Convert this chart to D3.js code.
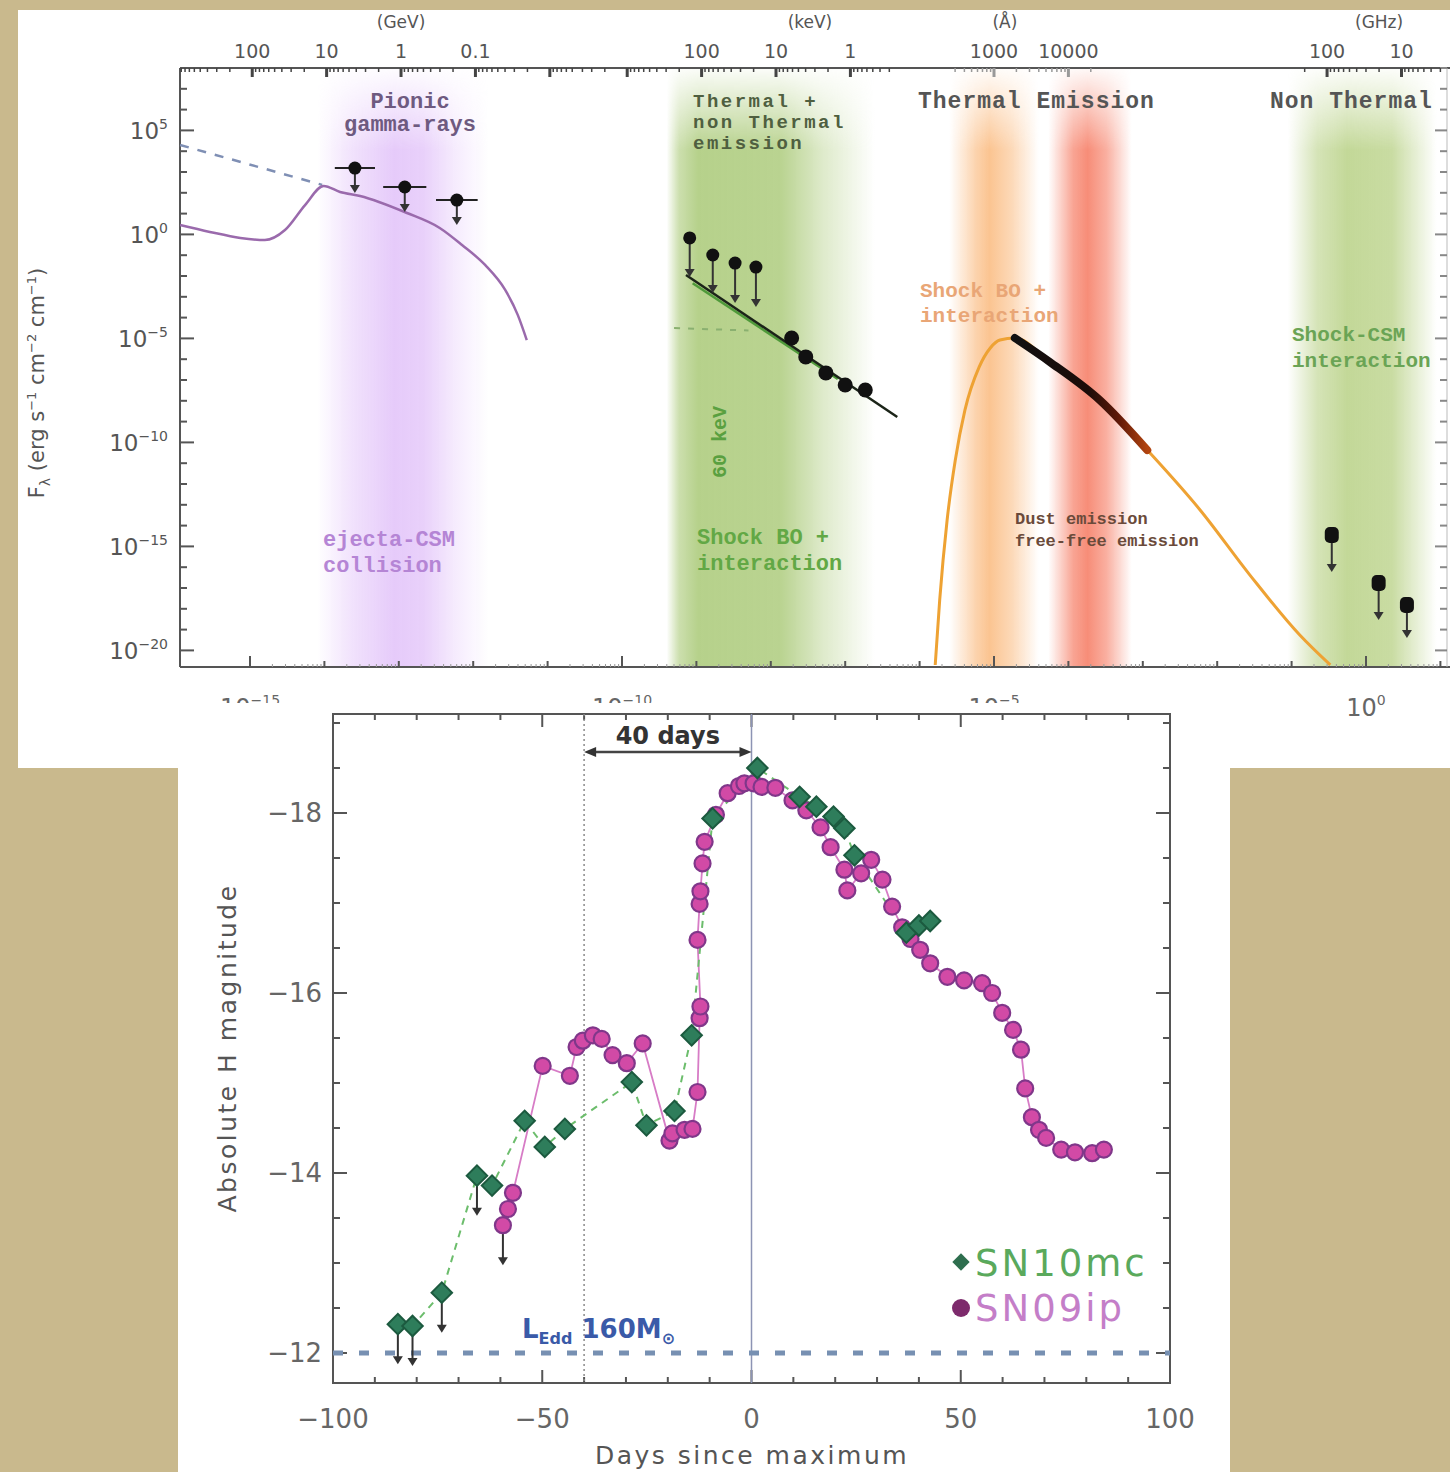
<!DOCTYPE html>
<html>
<head>
<meta charset="utf-8">
<script src="https://cdn.jsdelivr.net/npm/d3@7"></script>
<style>
  html, body { margin: 0; padding: 0; background: #c9b98d; }
  svg { display: block; }
</style>
</head>
<body>
<svg id="fig" width="1450" height="1472"></svg>
<script>
// ================= Upper panel: broadband SED =================
// x: log10 wavelength [cm], y: log10 F_lambda [erg s^-1 cm^-2 cm^-1]
const pionicModel = [[-15.94,0.45],[-15.54,0.12],[-15.13,-0.17],[-14.80,-0.27],[-14.53,0.21],
  [-14.26,1.41],[-14.01,2.33],[-13.79,2.04],[-13.52,1.85],[-12.89,1.03],[-12.45,0.31],
  [-12.15,-0.51],[-11.84,-1.47],[-11.57,-2.67],[-11.40,-3.88],[-11.28,-5.08]];
const pionicExtension = [[-15.94,4.30],[-14.03,2.38]];
// gamma-ray upper limits: [log lambda, log F, half band width in dex]
const gammaLimits = [[-13.59,3.19,0.27],[-12.92,2.28,0.29],[-12.22,1.65,0.28]];
const gammaLimitDrop = 1.2;
// hard X-ray upper limits: [log lambda, log F, arrow tip]
const xrayLimits = [[-9.09,-0.17,-2.05],[-8.78,-0.99,-2.82],[-8.48,-1.38,-3.30],[-8.20,-1.57,-3.49]];
const xrayDetections = [[-7.72,-4.98],[-7.53,-5.89],[-7.26,-6.66],[-7.00,-7.24],[-6.73,-7.48]];
const xrayPowerLaw = [[-9.14,-1.95],[-6.30,-8.78]];
const xrayShockModel = [[-9.05,-2.35],[-7.10,-6.95]];
const xrayFaintModel = [[-9.30,-4.50],[-8.30,-4.62]];
const thermalModel = [[-5.79,-20.7],[-5.73,-17.58],[-5.63,-13.73],[-5.52,-10.85],[-5.39,-8.44],
  [-5.20,-6.38],[-5.05,-5.46],[-4.92,-5.08],[-4.72,-4.98],[-4.25,-6.13],[-3.58,-7.96],
  [-2.94,-10.37],[-2.23,-13.25],[-1.56,-16.38],[-0.89,-19.26],[-0.48,-20.70]];
const opticalData = [[-4.72,-4.98],[-4.25,-6.13],[-3.58,-7.96],[-2.94,-10.37]];
// radio upper limits: [log lambda, log F, arrow tip]
const radioLimits = [[-0.46,-14.45,-16.23],[0.17,-16.76,-18.54],[0.55,-17.82,-19.40]];
// emission regimes (log lambda)
const regimes = [
  { id: "pionic", from: -14.10, to: -11.80 },
  { id: "xray",   from: -9.40,  to: -6.60 },
  { id: "uv",     from: -5.60,  to: -4.40 },
  { id: "ir",     from: -4.27,  to: -3.15 },
  { id: "radio",  from: -1.05,  to: 0.95 }
];
const yDecadeLabels = [5, 0, -5, -10, -15, -20];
const xDecadeLabels = [-15, -10, -5, 0];
// secondary (top) axes
const gevLabels = [100, 10, 1, 0.1];
const kevLabels = [100, 10, 1];
const angLabels = [1000, 10000];
const ghzLabels = [100, 10];

// ================= Lower panel: H-band light curves =================
// [days since maximum, absolute H magnitude, upper limit flag]
const sn10mc = [[-84.5,-12.32,1],[-81,-12.30,1],[-74,-12.67,1],[-65.6,-13.97,1],[-62,-13.86,0],
  [-54.2,-14.58,0],[-49.4,-14.29,0],[-44.6,-14.49,0],[-28.6,-15.01,0],[-25.1,-14.53,0],
  [-18.4,-14.69,0],[-14.3,-15.53,0],[-9.3,-17.94,0],[1.4,-18.50,0],[11.5,-18.18,0],
  [15.5,-18.07,0],[19.6,-17.96,0],[22.2,-17.83,0],[24.6,-17.53,0],[37,-16.67,0],
  [40,-16.75,0],[42.7,-16.80,0]];
const sn09ip = [[-59.4,-13.42,1],[-58.2,-13.60,0],[-57,-13.78,0],[-49.9,-15.19,0],[-43.4,-15.08,0],
  [-41.8,-15.40,0],[-40.3,-15.47,0],[-37.9,-15.53,0],[-35.8,-15.49,0],[-33.2,-15.31,0],
  [-29.8,-15.22,0],[-26,-15.44,0],[-19.6,-14.36,0],[-18.9,-14.44,0],[-16,-14.48,0],
  [-14.1,-14.49,0],[-12.9,-14.90,0],[-12.4,-15.72,0],[-12.2,-15.85,0],[-12.9,-16.59,0],
  [-12.4,-16.99,0],[-12.2,-17.13,0],[-11.7,-17.44,0],[-11.2,-17.68,0],[-8.5,-17.98,0],
  [-5.7,-18.22,0],[-3,-18.30,0],[-1.7,-18.33,0],[0.5,-18.33,0],[2.4,-18.29,0],[5.7,-18.28,0],
  [9.8,-18.14,0],[13.1,-18.03,0],[16.5,-17.84,0],[18.9,-17.62,0],[22.2,-17.37,0],[22.9,-17.14,0],
  [26.2,-17.33,0],[28.6,-17.48,0],[31.3,-17.26,0],[33.6,-16.96,0],[36,-16.73,0],[38,-16.60,0],
  [40.3,-16.48,0],[42.7,-16.33,0],[46.8,-16.18,0],[50.8,-16.14,0],[55.1,-16.11,0],[57.5,-16.00,0],
  [59.9,-15.78,0],[62.5,-15.59,0],[64.4,-15.37,0],[65.4,-14.94,0],[67,-14.62,0],[68.7,-14.48,0],
  [70.4,-14.39,0],[74,-14.26,0],[77.3,-14.23,0],[81.4,-14.22,0],[84.2,-14.26,0]];
const eddingtonMag = -12;
const gapStart = -40, gapEnd = 0;
const dayTicksMajor = [-100, -50, 0, 50, 100];
const magTicksMajor = [-18, -16, -14, -12];

// ---------------------------------------------------------------
const svg = d3.select("#fig");
const defs = svg.append("defs");
const FONT = "'DejaVu Sans', sans-serif";
const MONO = "'Liberation Mono', 'DejaVu Sans Mono', monospace";

svg.append("rect").attr("width", 1450).attr("height", 1472).attr("fill", "#c9b98d");
svg.append("rect").attr("x", 18).attr("y", 10).attr("width", 1432).attr("height", 758).attr("fill", "#ffffff");

// ---------- upper panel scales ----------
const xT = d3.scaleLinear().domain([-15, 0]).range([250, 1366]);
const yT = d3.scaleLinear().domain([5, -20]).range([130.4, 650.4]);
const T = { left: 180, right: 1447, top: 68, bottom: 667 };
const lamLo = xT.invert(T.left), lamHi = xT.invert(1450);
const fHi = yT.invert(T.top), fLo = yT.invert(T.bottom);

// regime bands
const regimeStyle = {
  pionic: { color: "#e6cbfa", stops: [[0,0],[0.2,0.55],[0.45,1],[0.62,0.9],[0.8,0.4],[1,0]] },
  xray:   { color: "#b6d18b", stops: [[0,0],[0.06,0.7],[0.15,1],[0.55,0.95],[0.75,0.45],[1,0]] },
  uv:     { color: "#fbc491", stops: [[0,0],[0.3,0.75],[0.45,1],[0.7,0.65],[1,0]] },
  ir:     { color: "#f78d78", stops: [[0,0],[0.3,0.8],[0.47,1],[0.7,0.7],[1,0]] },
  radio:  { color: "#c3d898", stops: [[0,0],[0.2,0.7],[0.4,1],[0.7,0.9],[1,0]] }
};
const fade = defs.append("linearGradient").attr("id", "bandFade")
  .attr("gradientUnits", "userSpaceOnUse").attr("x1", 0).attr("x2", 0).attr("y1", T.top).attr("y2", 150);
fade.append("stop").attr("offset", 0).attr("stop-color", "#fff").attr("stop-opacity", 0.05);
fade.append("stop").attr("offset", 1).attr("stop-color", "#fff").attr("stop-opacity", 1);
defs.append("mask").attr("id", "bandMask")
  .append("rect").attr("x", 0).attr("y", 0).attr("width", 1450).attr("height", 800).attr("fill", "url(#bandFade)");

const bandG = svg.append("g").attr("mask", "url(#bandMask)");
regimes.forEach(r => {
  const st = regimeStyle[r.id];
  const g = defs.append("linearGradient").attr("id", "band-" + r.id)
    .attr("gradientUnits", "userSpaceOnUse")
    .attr("x1", xT(r.from)).attr("x2", xT(r.to)).attr("y1", 0).attr("y2", 0);
  st.stops.forEach(([o, a]) => g.append("stop").attr("offset", o)
    .attr("stop-color", st.color).attr("stop-opacity", a));
  bandG.append("rect").attr("x", xT(r.from)).attr("width", xT(r.to) - xT(r.from))
    .attr("y", T.top).attr("height", T.bottom - T.top).attr("fill", `url(#band-${r.id})`);
});

// axes of upper panel
const axisT = svg.append("g").attr("stroke", "#555").attr("fill", "none");
axisT.append("line").attr("x1", T.left).attr("x2", 1450).attr("y1", T.top).attr("y2", T.top).attr("stroke-width", 2);
axisT.append("line").attr("x1", T.left).attr("x2", 1450).attr("y1", T.bottom).attr("y2", T.bottom).attr("stroke-width", 2);
axisT.append("line").attr("x1", T.left).attr("x2", T.left).attr("y1", T.top).attr("y2", T.bottom).attr("stroke-width", 2);
axisT.append("line").attr("x1", T.right).attr("x2", T.right).attr("y1", T.top).attr("y2", T.bottom)
  .attr("stroke-width", 1).attr("stroke", "#bbb");

for (let f = Math.ceil(fLo); f <= Math.floor(fHi); f++) {
  const big = f % 5 === 0;
  axisT.append("line").attr("x1", T.left).attr("x2", T.left + (big ? 14 : 7))
    .attr("y1", yT(f)).attr("y2", yT(f)).attr("stroke-width", 2);
  axisT.append("line").attr("x1", T.right).attr("x2", T.right - (big ? 12 : 7))
    .attr("y1", yT(f)).attr("y2", yT(f)).attr("stroke-width", 2).attr("stroke", "#888");
}
for (let l = Math.ceil(lamLo); l <= Math.floor(lamHi); l++) {
  const big = l % 5 === 0;
  axisT.append("line").attr("x1", xT(l)).attr("x2", xT(l))
    .attr("y1", T.bottom).attr("y2", T.bottom - (big ? 11 : 6)).attr("stroke-width", 2);
  for (let m = 2; m <= 9; m++) {
    const lm = l + Math.log10(m);
    if (lm < lamHi) axisT.append("line").attr("x1", xT(lm)).attr("x2", xT(lm))
      .attr("y1", T.bottom).attr("y2", T.bottom - 3).attr("stroke-width", 1).attr("stroke", "#999");
  }
}

// y tick labels
yDecadeLabels.forEach(n => {
  const t = svg.append("text").attr("x", 168).attr("y", yT(n) + 9)
    .attr("text-anchor", "end").attr("font-family", FONT).attr("font-size", 23).attr("fill", "#555");
  t.append("tspan").text("10");
  t.append("tspan").attr("dy", -10).attr("font-size", 14).text(n === 0 ? "0" : String(n).replace("-", "\u2212"));
});
// x tick labels (lower edge)
xDecadeLabels.forEach(n => {
  const t = svg.append("text").attr("x", xT(n)).attr("y", 716)
    .attr("text-anchor", "middle").attr("font-family", FONT).attr("font-size", 24).attr("fill", "#666");
  t.append("tspan").text("10");
  t.append("tspan").attr("dy", -11).attr("font-size", 14).text(n === 0 ? "0" : String(n).replace("-", "\u2212"));
});
// y title
{
  const t = svg.append("text").attr("transform", "translate(44,383) rotate(-90)")
    .attr("text-anchor", "middle").attr("font-family", FONT).attr("font-size", 21).attr("fill", "#555");
  t.append("tspan").text("F");
  t.append("tspan").attr("dy", 6).attr("font-size", 14).text("\u03bb");
  t.append("tspan").attr("dy", -6).text(" (erg s");
  t.append("tspan").attr("dy", -8).attr("font-size", 13).text("\u22121");
  t.append("tspan").attr("dy", 8).text(" cm");
  t.append("tspan").attr("dy", -8).attr("font-size", 13).text("\u22122");
  t.append("tspan").attr("dy", 8).text(" cm");
  t.append("tspan").attr("dy", -8).attr("font-size", 13).text("\u22121");
  t.append("tspan").attr("dy", 8).text(")");
}

// secondary energy / wavelength / frequency axes on top
const topSections = [
  { unit: "(GeV)", labels: gevLabels, toLog: e => -12.97 - Math.log10(e), span: [-15.94, -10.6], unitAt: 1, tone: "#444" },
  { unit: "(keV)", labels: kevLabels, toLog: e => -6.93 - Math.log10(e), span: [-10.6, -6.3], unitAt: 3.5, tone: "#444" },
  { unit: "(\u00c5)", labels: angLabels, toLog: a => Math.log10(a) - 8, span: [-5.6, -3.55], unitAt: 1400, tone: "#999" },
  { unit: "(GHz)", labels: ghzLabels, toLog: g => Math.log10(29.98 / g), span: [-0.95, 1.2], unitAt: 20, tone: "#444" }
];
topSections.forEach(s => {
  for (let d = -6; d <= 6; d++) {
    for (let m = 1; m <= 9; m++) {
      const L = s.toLog(m * Math.pow(10, d));
      if (L < s.span[0] || L > s.span[1] || L > lamHi) continue;
      svg.append("line").attr("x1", xT(L)).attr("x2", xT(L)).attr("y1", T.top)
        .attr("y2", T.top + (m === 1 ? 9 : 4)).attr("stroke", s.tone).attr("stroke-width", m === 1 ? 3 : 1.5);
    }
  }
  s.labels.forEach(v => {
    svg.append("text").attr("x", xT(s.toLog(v))).attr("y", 58).attr("text-anchor", "middle")
      .attr("font-family", FONT).attr("font-size", 19).attr("fill", "#555").text(String(v));
  });
  svg.append("text").attr("x", xT(s.toLog(s.unitAt))).attr("y", 28).attr("text-anchor", "middle")
    .attr("font-family", FONT).attr("font-size", 17).attr("fill", "#555").text(s.unit);
});

// models and measurements
const lineT = d3.line().x(d => xT(d[0])).y(d => yT(d[1]));
const smoothT = d3.line().x(d => xT(d[0])).y(d => yT(d[1])).curve(d3.curveMonotoneX);
const plotT = svg.append("g");

plotT.append("path").datum(pionicExtension).attr("d", lineT).attr("fill", "none")
  .attr("stroke", "#7f8fb4").attr("stroke-width", 2.5).attr("stroke-dasharray", "9,9");
plotT.append("path").datum(pionicModel).attr("d", smoothT).attr("fill", "none")
  .attr("stroke", "#9a6aac").attr("stroke-width", 2.5);

plotT.append("path").datum(xrayFaintModel).attr("d", lineT).attr("fill", "none")
  .attr("stroke", "#8ab070").attr("stroke-width", 2).attr("stroke-dasharray", "6,8");
plotT.append("path").datum(xrayShockModel).attr("d", lineT).attr("fill", "none")
  .attr("stroke", "#4f9a3a").attr("stroke-width", 2.5);
plotT.append("path").datum(xrayPowerLaw).attr("d", lineT).attr("fill", "none")
  .attr("stroke", "#1b2418").attr("stroke-width", 2.5);

plotT.append("path").datum(thermalModel).attr("d", smoothT)
  .attr("fill", "none").attr("stroke", "#eea233").attr("stroke-width", 3);
{
  const g = defs.append("linearGradient").attr("id", "optGrad").attr("gradientUnits", "userSpaceOnUse")
    .attr("x1", xT(opticalData[0][0])).attr("x2", xT(opticalData[opticalData.length - 1][0])).attr("y1", 0).attr("y2", 0);
  [[0, "#111"], [0.55, "#1c0b08"], [0.78, "#5e1808"], [1, "#b2440f"]].forEach(([o, c]) =>
    g.append("stop").attr("offset", o).attr("stop-color", c));
  plotT.append("path").datum(opticalData).attr("d", smoothT)
    .attr("fill", "none").attr("stroke", "url(#optGrad)").attr("stroke-width", 8).attr("stroke-linecap", "round");
}

function limitArrow(g, x, y1, y2, color, w) {
  g.append("line").attr("x1", x).attr("x2", x).attr("y1", y1).attr("y2", y2 - 6)
    .attr("stroke", color).attr("stroke-width", w);
  g.append("path").attr("d", `M${x - 5},${y2 - 8}L${x + 5},${y2 - 8}L${x},${y2}Z`).attr("fill", color);
}

gammaLimits.forEach(([l, f, dx]) => {
  plotT.append("line").attr("x1", xT(l - dx)).attr("x2", xT(l + dx)).attr("y1", yT(f)).attr("y2", yT(f))
    .attr("stroke", "#222").attr("stroke-width", 2);
  limitArrow(plotT, xT(l), yT(f), yT(f - gammaLimitDrop), "#333", 2);
  plotT.append("circle").attr("cx", xT(l)).attr("cy", yT(f)).attr("r", 6.5).attr("fill", "#111");
});
xrayLimits.forEach(([l, f, tip]) => {
  limitArrow(plotT, xT(l), yT(f), yT(tip), "#333", 2);
  plotT.append("circle").attr("cx", xT(l)).attr("cy", yT(f)).attr("r", 6.5).attr("fill", "#111");
});
xrayDetections.forEach(([l, f]) => {
  plotT.append("circle").attr("cx", xT(l)).attr("cy", yT(f)).attr("r", 7.5).attr("fill", "#111");
});
radioLimits.forEach(([l, f, tip]) => {
  limitArrow(plotT, xT(l), yT(f), yT(tip), "#333", 2);
  plotT.append("rect").attr("x", xT(l) - 7).attr("y", yT(f) - 8).attr("width", 14).attr("height", 16)
    .attr("rx", 5).attr("fill", "#111");
});

// regime annotations
const notes = [
  { lines: ["Pionic", "gamma-rays"], x: 410, y: 108, anchor: "middle", color: "#6e5a80", size: 22, lh: 23 },
  { lines: ["Thermal +", "non Thermal", "emission"], x: 693, y: 107, anchor: "start", color: "#4f5f40", size: 19, lh: 21, ls: 2.5 },
  { lines: ["Thermal Emission"], x: 918, y: 108, anchor: "start", color: "#555", size: 23, ls: 1 },
  { lines: ["Non Thermal"], x: 1270, y: 108, anchor: "start", color: "#555", size: 23, ls: 1 },
  { lines: ["Shock BO +", "interaction"], x: 920, y: 297, anchor: "start", color: "#e9a676", size: 21, lh: 25 },
  { lines: ["Shock-CSM", "interaction"], x: 1292, y: 341, anchor: "start", color: "#6aa455", size: 21, lh: 26 },
  { lines: ["ejecta-CSM", "collision"], x: 323, y: 546, anchor: "start", color: "#b585d5", size: 22, lh: 26 },
  { lines: ["Shock BO +", "interaction"], x: 697, y: 544, anchor: "start", color: "#62a845", size: 22, lh: 26 },
  { lines: ["Dust emission", "free-free emission"], x: 1015, y: 524, anchor: "start", color: "#6a4a3a", size: 17, lh: 22 }
];
notes.forEach(n => {
  const t = svg.append("text").attr("x", n.x).attr("y", n.y).attr("text-anchor", n.anchor)
    .attr("font-family", MONO).attr("font-weight", "bold").attr("font-size", n.size)
    .attr("letter-spacing", n.ls || 0).attr("fill", n.color);
  n.lines.forEach((s, i) => t.append("tspan").attr("x", n.x).attr("dy", i === 0 ? 0 : n.lh).text(s));
});
svg.append("text").attr("transform", "translate(726,442) rotate(-90)").attr("text-anchor", "middle")
  .attr("font-family", MONO).attr("font-weight", "bold").attr("font-size", 20).attr("fill", "#5aa040").text("60 keV");

// ================= lower panel =================
svg.append("rect").attr("x", 178).attr("y", 703).attr("width", 1052).attr("height", 769).attr("fill", "#ffffff");

const xB = d3.scaleLinear().domain([-100, 100]).range([333, 1170]);
const yB = d3.scaleLinear().domain([-18, -12]).range([813, 1353]);
const B = { left: 333, right: 1170, top: 714, bottom: 1383 };
const magTop = yB.invert(B.top), magBottom = yB.invert(B.bottom);

const axB = svg.append("g").attr("stroke", "#555");
axB.append("rect").attr("x", B.left).attr("y", B.top).attr("width", B.right - B.left)
  .attr("height", B.bottom - B.top).attr("fill", "none").attr("stroke-width", 2);
d3.range(-100, 101, 10).forEach(d => {
  const big = dayTicksMajor.includes(d), len = big ? 13 : 6;
  axB.append("line").attr("x1", xB(d)).attr("x2", xB(d)).attr("y1", B.bottom).attr("y2", B.bottom - len).attr("stroke-width", 2);
  axB.append("line").attr("x1", xB(d)).attr("x2", xB(d)).attr("y1", B.top).attr("y2", B.top + len).attr("stroke-width", 2);
});
for (let m = -19; m <= -11.5; m += 0.5) {
  if (m < magTop || m > magBottom) continue;
  const big = magTicksMajor.includes(m), len = big ? 14 : 7;
  axB.append("line").attr("x1", B.left).attr("x2", B.left + len).attr("y1", yB(m)).attr("y2", yB(m)).attr("stroke-width", 2);
  axB.append("line").attr("x1", B.right).attr("x2", B.right - len).attr("y1", yB(m)).attr("y2", yB(m)).attr("stroke-width", 2);
}
dayTicksMajor.forEach(d => svg.append("text").attr("x", xB(d)).attr("y", 1428).attr("text-anchor", "middle")
  .attr("font-family", FONT).attr("font-size", 26).attr("fill", "#666").text(String(d).replace("-", "\u2212")));
magTicksMajor.forEach(m => svg.append("text").attr("x", 322).attr("y", yB(m) + 9).attr("text-anchor", "end")
  .attr("font-family", FONT).attr("font-size", 26).attr("fill", "#666").text(String(m).replace("-", "\u2212")));
svg.append("text").attr("x", 752).attr("y", 1464).attr("text-anchor", "middle").attr("font-family", FONT)
  .attr("font-size", 25).attr("letter-spacing", 2.5).attr("fill", "#555").text("Days since maximum");
svg.append("text").attr("transform", "translate(236,1048) rotate(-90)").attr("text-anchor", "middle").attr("font-family", FONT)
  .attr("font-size", 25).attr("letter-spacing", 2.5).attr("fill", "#555").text("Absolute H magnitude");

// reference lines
svg.append("line").attr("x1", xB(gapStart)).attr("x2", xB(gapStart)).attr("y1", B.top).attr("y2", B.bottom)
  .attr("stroke", "#8a8a8a").attr("stroke-width", 1.5).attr("stroke-dasharray", "2,3");
svg.append("line").attr("x1", xB(gapEnd)).attr("x2", xB(gapEnd)).attr("y1", B.top).attr("y2", B.bottom)
  .attr("stroke", "#8d94b4").attr("stroke-width", 1.5);
svg.append("line").attr("x1", B.left).attr("x2", B.right).attr("y1", yB(eddingtonMag)).attr("y2", yB(eddingtonMag))
  .attr("stroke", "#7790b2").attr("stroke-width", 5).attr("stroke-dasharray", "10,16");
{
  const t = svg.append("text").attr("x", 522).attr("y", 1338).attr("font-family", FONT)
    .attr("font-weight", "bold").attr("font-size", 26).attr("fill", "#3a5aa8");
  t.append("tspan").text("L");
  t.append("tspan").attr("dy", 6).attr("font-size", 16).text("Edd");
  t.append("tspan").attr("dy", -6).text(" 160M");
  t.append("tspan").attr("dy", 6).attr("font-size", 16).text("\u2299");
}
// 40-day gap arrow
{
  const ya = 752, x1 = xB(gapStart), x2 = xB(gapEnd);
  svg.append("line").attr("x1", x1 + 8).attr("x2", x2 - 8).attr("y1", ya).attr("y2", ya).attr("stroke", "#444").attr("stroke-width", 2.5);
  svg.append("path").attr("d", `M${x1},${ya}L${x1 + 12},${ya - 5}L${x1 + 12},${ya + 5}Z`).attr("fill", "#333");
  svg.append("path").attr("d", `M${x2},${ya}L${x2 - 12},${ya - 5}L${x2 - 12},${ya + 5}Z`).attr("fill", "#333");
  svg.append("text").attr("x", (x1 + x2) / 2).attr("y", 744).attr("text-anchor", "middle").attr("font-family", FONT)
    .attr("font-weight", "bold").attr("font-size", 24).attr("fill", "#333").text("40 days");
}

// light curves
const lineB = d3.line().x(d => xB(d[0])).y(d => yB(d[1]));
svg.append("path").datum(sn09ip).attr("d", lineB).attr("fill", "none").attr("stroke", "#d77cc6").attr("stroke-width", 1.8);
svg.append("path").datum(sn10mc).attr("d", lineB).attr("fill", "none").attr("stroke", "#6cbd6c")
  .attr("stroke-width", 2).attr("stroke-dasharray", "7,6");

const diamond = d3.symbol().type(d3.symbolSquare).size(210);
function drawLimit(d) { limitArrow(svg, xB(d[0]), yB(d[1]), yB(d[1]) + 40, "#333", 2); }
sn09ip.filter(d => d[2]).forEach(drawLimit);
sn10mc.filter(d => d[2]).forEach(drawLimit);

svg.append("g").selectAll("circle").data(sn09ip).join("circle")
  .attr("cx", d => xB(d[0])).attr("cy", d => yB(d[1])).attr("r", 8)
  .attr("fill", "#d24aa6").attr("stroke", "#80378a").attr("stroke-width", 2.2);
svg.append("g").selectAll("path").data(sn10mc).join("path")
  .attr("d", diamond).attr("transform", d => `translate(${xB(d[0])},${yB(d[1])}) rotate(45)`)
  .attr("fill", "#2e7d5b").attr("stroke", "#1c5a3f").attr("stroke-width", 2);

// legend
svg.append("path").attr("d", d3.symbol().type(d3.symbolSquare).size(150))
  .attr("transform", "translate(961,1262) rotate(45)").attr("fill", "#2e6e4e");
svg.append("text").attr("x", 975).attr("y", 1276).attr("font-family", FONT).attr("font-size", 37)
  .attr("letter-spacing", 3).attr("fill", "#5aa95c").text("SN10mc");
svg.append("circle").attr("cx", 961).attr("cy", 1308).attr("r", 9).attr("fill", "#7d2a6c");
svg.append("text").attr("x", 975).attr("y", 1321).attr("font-family", FONT).attr("font-size", 37)
  .attr("letter-spacing", 3).attr("fill", "#c47ec8").text("SN09ip");
</script>
</body>
</html>
